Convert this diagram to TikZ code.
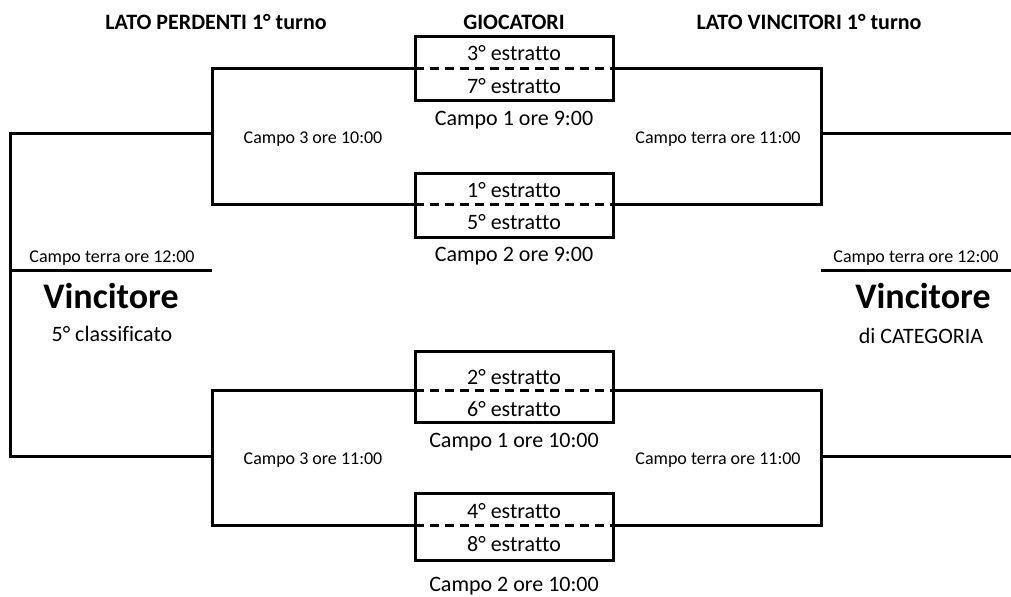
\documentclass[tikz,border=0pt]{standalone}
\usepackage{fontspec}
\setmainfont{Carlito}[Ligatures=NoCommon]
\begin{document}
\begin{tikzpicture}[x=0.5pt,y=-0.5pt,
  conn/.style={line width=1.5pt, line join=miter},
  sep/.style={line width=1.5pt, dash pattern=on 4.5pt off 3pt},
  box/.style={draw, line width=1.5pt, inner sep=0pt, minimum width=99pt},
  head/.style={font=\fontsize{11}{13}\selectfont\bfseries},
  txt/.style={font=\fontsize{11}{13}\selectfont},
  small/.style={font=\fontsize{9}{11}\selectfont},
  big/.style={font=\fontsize{18}{22}\selectfont\bfseries}]
\useasboundingbox (0,0) rectangle (1011,596);
% headers
\node[head] (h1) at (216,22) {LATO PERDENTI 1° turno};
\node[head] (h2) at (514,22) {GIOCATORI};
\node[head] (h3) at (809,22) {LATO VINCITORI 1° turno};
% boxes
\node[box, minimum height=32pt] (b1) at (514,68) {};
\node[box, minimum height=32pt] (b2) at (514,205) {};
\node[box, minimum height=35.5pt] (b3) at (514,386.5) {};
\node[box, minimum height=33.5pt] (b4) at (514,526.5) {};
% dashed-line ends
\coordinate (d1L) at (415,68);  \coordinate (d1R) at (613,68);
\coordinate (d2L) at (415,204); \coordinate (d2R) at (613,204);
\coordinate (d3L) at (415,390); \coordinate (d3R) at (613,390);
\coordinate (d4L) at (415,525); \coordinate (d4R) at (613,525);
\draw[sep] (d1L) -- (d1R);
\draw[sep] (d2L) -- (d2R);
\draw[sep] (d3L) -- (d3R);
\draw[sep] (d4L) -- (d4R);
% player texts
\node[txt] (p3) at (514,53) {3° estratto};
\node[txt] (p7) at (514,86) {7° estratto};
\node[txt] (p1) at (514,190) {1° estratto};
\node[txt] (p5) at (514,222) {5° estratto};
\node[txt] (p2) at (514,377) {2° estratto};
\node[txt] (p6) at (514,409) {6° estratto};
\node[txt] (p4) at (514,511) {4° estratto};
\node[txt] (p8) at (514,544) {8° estratto};
\node[txt] (c1) at (514,120) {Campo 1 ore 9:00};
\node[txt] (c2) at (514,256) {Campo 2 ore 9:00};
\node[txt] (c3) at (514,442) {Campo 1 ore 10:00};
\node[txt] (c4) at (514,586) {Campo 2 ore 10:00};
% bracket points
\coordinate (lt1) at (212,68);  \coordinate (lt2) at (212,204); \coordinate (ltm) at (212,133);
\coordinate (lb1) at (212,390); \coordinate (lb2) at (212,525); \coordinate (lbm) at (212,456);
\coordinate (rt1) at (821,68);  \coordinate (rt2) at (821,204); \coordinate (rtm) at (821,133);
\coordinate (rb1) at (821,390); \coordinate (rb2) at (821,525); \coordinate (rbm) at (821,456);
\coordinate (ot) at (10,133); \coordinate (ob) at (10,456); \coordinate (of) at (10,270);
\coordinate (lf) at (212,270);
\coordinate (rf) at (821,270); \coordinate (ef) at (1011,270);
\coordinate (et) at (1011,133); \coordinate (eb) at (1011,456);
% left side
\draw[conn] (d1L) -- (lt1) -- (lt2) -- (d2L);
\draw[conn] (d3L) -- (lb1) -- (lb2) -- (d4L);
\draw[conn] (ltm) -- (ot) -- (ob) -- (lbm);
\draw[conn] (of) -- (lf);
% right side
\draw[conn] (d1R) -- (rt1) -- (rt2) -- (d2R);
\draw[conn] (d3R) -- (rb1) -- (rb2) -- (d4R);
\draw[conn] (rtm) -- (et);
\draw[conn] (rbm) -- (eb);
\draw[conn] (rf) -- (ef);
% small labels
\node[small] (s1) at (313,139) {Campo 3 ore 10:00};
\node[small] (s2) at (313,460) {Campo 3 ore 11:00};
\node[small] (s3) at (718,139) {Campo terra ore 11:00};
\node[small] (s4) at (718,460) {Campo terra ore 11:00};
\node[small] (s5) at (112,258) {Campo terra ore 12:00};
\node[small] (s6) at (916,258) {Campo terra ore 12:00};
% winners
\node[big] (w1) at (111,296) {Vincitore};
\node[big] (w2) at (923,296) {Vincitore};
\node[txt] (x1) at (112,334) {5° classificato};
\node[txt] (x2) at (921,336) {di CATEGORIA};
\end{tikzpicture}
\end{document}
